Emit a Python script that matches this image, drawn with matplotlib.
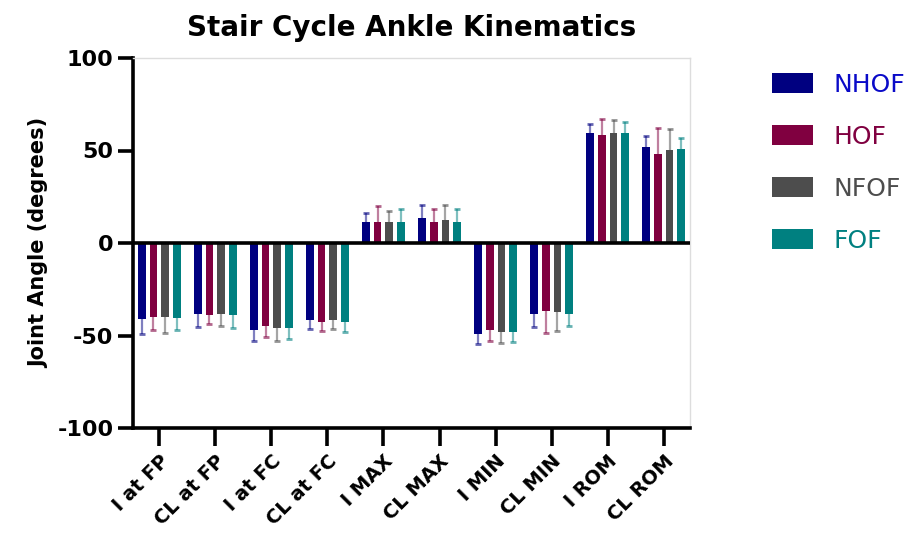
import numpy as np
import matplotlib
matplotlib.use('Agg')
import matplotlib.pyplot as plt
from matplotlib.patches import Patch

plt.rcParams['font.family'] = ['DejaVu Sans']
plt.rcParams['axes.unicode_minus'] = False

# categories and groups
categories = ['I at FP', 'CL at FP', 'I at FC', 'CL at FC', 'I MAX',
              'CL MAX', 'I MIN', 'CL MIN', 'I ROM', 'CL ROM']
groups = ['NHOF', 'HOF', 'NFOF', 'FOF']

# mean joint angles (degrees)
nhof = [-41, -38.6, -47, -41.6, 11.2, 13.3, -49.2, -38.6, 59.3, 52.1]
hof = [-39.8, -38.9, -44.9, -42.9, 11.2, 11.2, -47, -36.6, 58.2, 47.9]
nfof = [-39.8, -38.6, -46.2, -41.6, 11.2, 12.4, -48.1, -37.5, 59.3, 50.1]
fof = [-40.7, -38.9, -46.2, -42.9, 11.2, 11.2, -48.1, -38.6, 59.3, 51]

# standard deviations
nhof_sd = [8, 7, 6, 5, 5, 7, 5.5, 6.6, 5, 6]
hof_sd = [7, 5, 6, 4.7, 9, 7, 6, 12, 9, 14]
nfof_sd = [9, 6, 7, 5, 6, 8, 6, 10, 7, 11.5]
fof_sd = [6.5, 7, 5.6, 5.3, 7, 7, 5.6, 6, 6, 6]

colors = ['#000080', '#800040', '#4d4d4d', '#008080']
text_colors = ['#0a0ac8', '#800040', '#4d4d4d', '#008080']

means = [nhof, hof, nfof, fof]
sds = [nhof_sd, hof_sd, nfof_sd, fof_sd]

fig = plt.figure(figsize=(9.12, 5.34), dpi=100)
ax = fig.add_axes([133 / 912, 1 - 428 / 534, 557 / 912, 370 / 534])

x = np.arange(len(categories))
pitch = 0.21
width = 0.138

for i in range(len(groups)):
    vals = np.array(means[i])
    sd = np.array(sds[i])
    pos = x + (i - 1.5) * pitch
    ends = vals + np.sign(vals) * sd
    ax.vlines(pos, vals, ends, color=colors[i], alpha=0.5, lw=1.6, zorder=1)
    ax.plot(pos, ends, ls='none', marker='_', ms=5, mew=2,
            color=colors[i], alpha=0.6, zorder=1)
    ax.bar(pos, vals, width=width, color=colors[i], zorder=2)

ax.axhline(0, color='black', lw=2.6, zorder=3)

ax.set_xlim(-0.47, 9.47)
ax.set_ylim(-100, 100)
ax.set_yticks([-100, -50, 0, 50, 100])
ax.set_xticks(x)
ax.set_xticklabels(categories, rotation=45, ha='right', rotation_mode='anchor')

for lab in ax.get_xticklabels():
    lab.set_fontsize(14)
    lab.set_fontweight('bold')
for lab in ax.get_yticklabels():
    lab.set_fontsize(16)
    lab.set_fontweight('bold')

ax.tick_params(axis='y', length=11, width=2.6, pad=3)
ax.tick_params(axis='x', length=13, width=2.6, pad=4)

ax.spines['left'].set_linewidth(2.6)
ax.spines['bottom'].set_linewidth(2.6)
ax.spines['top'].set_color('#dddddd')
ax.spines['right'].set_color('#dddddd')
ax.spines['top'].set_linewidth(1)
ax.spines['right'].set_linewidth(1)

ax.set_ylabel('Joint Angle (degrees)', fontsize=15, fontweight='bold', labelpad=6)
ax.set_title('Stair Cycle Ankle Kinematics', fontsize=20, fontweight='bold', pad=16)

handles = [Patch(facecolor=c) for c in colors]
leg = fig.legend(handles, groups, loc='upper left', bbox_to_anchor=(750 / 912, 1 - 50 / 534),
                 frameon=False, fontsize=18, handlelength=1.64, handleheight=0.88,
                 handletextpad=0.8, labelspacing=1.12)
for t, c in zip(leg.get_texts(), text_colors):
    t.set_color(c)

fig.savefig('out.png', dpi=100)
